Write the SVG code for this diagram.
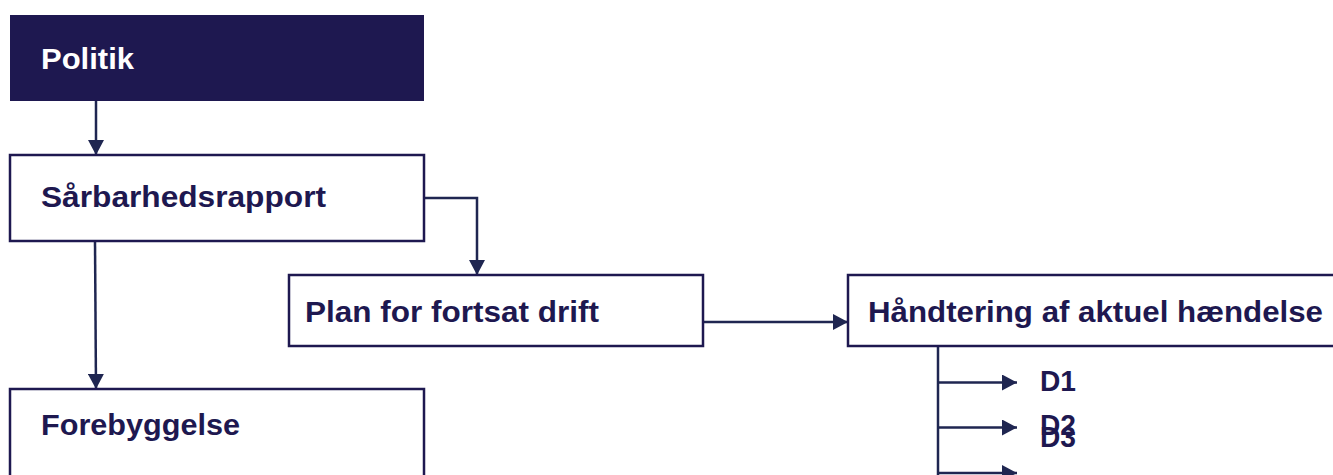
<svg xmlns="http://www.w3.org/2000/svg" width="1333" height="475" viewBox="0 0 1333 475">
  <style>
    .box { fill: #ffffff; stroke: #1e1850; stroke-width: 2.5; }
    .dark { fill: #1e1850; stroke: none; }
    .lbl { font-family: "Liberation Sans", Arial, sans-serif; font-weight: bold; font-size: 30px; fill: #1e1850; }
    .lbl-w { font-family: "Liberation Sans", Arial, sans-serif; font-weight: bold; font-size: 30px; fill: #ffffff; }
    .conn { fill: none; stroke: #1f2651; stroke-width: 2.5; }
  </style>
  <defs>
    <marker id="arrow" markerUnits="userSpaceOnUse" markerWidth="16" markerHeight="16" viewBox="0 0 16 16" refX="15" refY="8" orient="auto">
      <path d="M0,0 L15,8 L0,16 Z" fill="#1f2651"/>
    </marker>
  </defs>
  <rect width="1333" height="475" fill="#ffffff"/>

  <g id="connectors">
    <path class="conn" d="M96,100 V155" marker-end="url(#arrow)"/>
    <path class="conn" d="M424,198 H477 V275" marker-end="url(#arrow)"/>
    <path class="conn" d="M95,241 L96,389" marker-end="url(#arrow)"/>
    <path class="conn" d="M703,322 H848" marker-end="url(#arrow)"/>
    <path class="conn" d="M938,346 V480"/>
    <path class="conn" d="M938,382.5 H1017" marker-end="url(#arrow)"/>
    <path class="conn" d="M938,427.5 H1017" marker-end="url(#arrow)"/>
    <path class="conn" d="M938,473 H1017" marker-end="url(#arrow)"/>
  </g>

  <g id="node-politik">
    <rect class="dark" x="10" y="15" width="414" height="86"/>
    <text class="lbl-w" x="41" y="69" textLength="93" lengthAdjust="spacingAndGlyphs">Politik</text>
  </g>
  <g id="node-saarbarhedsrapport">
    <rect class="box" x="10" y="155" width="414" height="86"/>
    <text class="lbl" x="41" y="207" textLength="285" lengthAdjust="spacingAndGlyphs">Sårbarhedsrapport</text>
  </g>
  <g id="node-plan">
    <rect class="box" x="289" y="275" width="414" height="71"/>
    <text class="lbl" x="305" y="322" textLength="294" lengthAdjust="spacingAndGlyphs">Plan for fortsat drift</text>
  </g>
  <g id="node-haandtering">
    <rect class="box" x="848" y="275" width="500" height="71"/>
    <text class="lbl" x="868" y="322" textLength="455" lengthAdjust="spacingAndGlyphs">Håndtering af aktuel hændelse</text>
  </g>
  <g id="node-forebyggelse">
    <rect class="box" x="10" y="389" width="414" height="100"/>
    <text class="lbl" x="41" y="435" textLength="199" lengthAdjust="spacingAndGlyphs">Forebyggelse</text>
  </g>
  <g id="node-d1">
    <text class="lbl" x="1040" y="391" textLength="36" lengthAdjust="spacingAndGlyphs">D1</text>
  </g>
  <g id="node-d2">
    <text class="lbl" x="1040" y="435" textLength="36" lengthAdjust="spacingAndGlyphs">D2</text>
  </g>
  <g id="node-d3">
    <text class="lbl" x="1040" y="447" textLength="36" lengthAdjust="spacingAndGlyphs">D3</text>
  </g>
</svg>
